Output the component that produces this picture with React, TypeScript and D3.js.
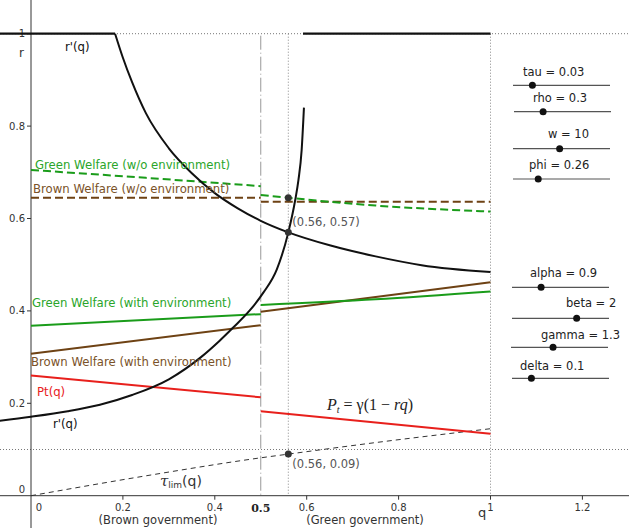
import React from "react";
import * as d3 from "d3";

// axis ticks
const qTicks = [0.2, 0.4, 0.6, 0.8, 1, 1.2];
const rTicks = [0.2, 0.4, 0.6, 0.8, 1];

// r'(q), falling branch (after the cap at r = 1)
const rPrimeFallQ = [0.183, 0.2, 0.22, 0.25, 0.3, 0.35, 0.4, 0.45, 0.5, 0.56, 0.65, 0.75, 0.85, 1];
const rPrimeFallR = [1, 0.948, 0.895, 0.828, 0.752, 0.698, 0.655, 0.622, 0.595, 0.57, 0.542, 0.518, 0.499, 0.484];

// r'(q), rising branch
const rPrimeRiseQ = [-0.07, 0, 0.08, 0.15, 0.22, 0.3, 0.37, 0.41, 0.44, 0.477, 0.506, 0.535, 0.56, 0.575, 0.582, 0.589, 0.594];
const rPrimeRiseR = [0.162, 0.171, 0.183, 0.197, 0.218, 0.252, 0.3, 0.335, 0.364, 0.402, 0.44, 0.49, 0.57, 0.64, 0.683, 0.748, 0.84];

// capped parts of r'(q)
const capLeftQ = [-0.07, 0.183];
const capRightQ = [0.592, 1];

// welfare and price, brown government (q < 0.5) and green government (q > 0.5)
const greenNoEnvLeftQ = [0, 0.25, 0.5];
const greenNoEnvLeftR = [0.705, 0.688, 0.67];
const greenNoEnvRightQ = [0.5, 0.75, 1];
const greenNoEnvRightR = [0.651, 0.628, 0.615];

const brownNoEnvLeftQ = [0, 0.5];
const brownNoEnvLeftR = [0.645, 0.645];
const brownNoEnvRightQ = [0.5, 1];
const brownNoEnvRightR = [0.636, 0.636];

const greenEnvLeftQ = [0, 0.5];
const greenEnvLeftR = [0.368, 0.393];
const greenEnvRightQ = [0.5, 0.75, 1];
const greenEnvRightR = [0.413, 0.425, 0.442];

const brownEnvLeftQ = [0, 0.5];
const brownEnvLeftR = [0.307, 0.369];
const brownEnvRightQ = [0.5, 1];
const brownEnvRightR = [0.398, 0.462];

const priceLeftQ = [0, 0.5];
const priceLeftR = [0.26, 0.213];
const priceRightQ = [0.5, 1];
const priceRightR = [0.183, 0.134];

// tau_lim(q)
const tauLimQ = [0, 0.25, 0.5, 0.56, 0.75, 1];
const tauLimR = [0, 0.043, 0.082, 0.09, 0.115, 0.145];

// marked points
const pointsQ = [0.56, 0.56, 0.56];
const pointsR = [0.57, 0.645, 0.09];

// sliders
const sliderNames = ["tau", "rho", "w", "phi", "alpha", "beta", "gamma", "delta"];
const sliderValues = [0.03, 0.3, 10, 0.26, 0.9, 2, 1.3, 0.1];
const sliderMin = [0, 0, 0, 0, 0, 0, 0, 0];
const sliderMax = [0.15, 1, 20.8, 1, 3, 3, 3, 0.5];

const GREEN = "#1a9c1a";
const GREEN_TXT = "#2aa52a";
const BROWN = "#6e4214";
const BROWN_TXT = "#7a5228";
const RED = "#e8201c";
const FONT = "'DejaVu Sans', sans-serif";

const W = 629;
const H = 528;

const x = d3.scaleLinear().domain([0, 1]).range([31, 490.5]);
const y = d3.scaleLinear().domain([0, 1]).range([495.7, 33.7]);

const zip = (qs: number[], rs: number[]) => qs.map((q, i) => [q, rs[i]] as [number, number]);

const straight = d3.line<[number, number]>().x((d) => x(d[0])).y((d) => y(d[1]));
const smooth = d3
  .line<[number, number]>()
  .x((d) => x(d[0]))
  .y((d) => y(d[1]))
  .curve(d3.curveMonotoneX);

// slider track layout: [track y, track left, label x, label baseline]
const sliderLayout = [
  [85.3, 513, 523, 76],
  [111.7, 514, 533, 101.5],
  [148.7, 513, 548, 138],
  [179, 513, 529, 169],
  [287.3, 512, 530, 277],
  [318.3, 512, 566, 307],
  [347.3, 511, 541, 339],
  [378.3, 512, 520, 370],
];
const TRACK_LEN = 97;

export default function App() {
  const line = (
    qs: number[],
    rs: number[],
    color: string,
    opts: { dash?: string; width?: number; curve?: boolean } = {}
  ) => (
    <path
      d={(opts.curve ? smooth : straight)(zip(qs, rs)) || ""}
      fill="none"
      stroke={color}
      strokeWidth={opts.width ?? 2}
      strokeDasharray={opts.dash}
    />
  );

  return (
    <svg
      width={W}
      height={H}
      style={{ position: "absolute", left: 0, top: 0, background: "#fff" }}
      fontFamily={FONT}
    >
      <rect width={W} height={H} fill="#fff" />

      {/* guide lines */}
      <line x1={0} x2={W} y1={y(1)} y2={y(1)} stroke="#777" strokeDasharray="1,2" />
      <line x1={0} x2={W} y1={y(0.1)} y2={y(0.1)} stroke="#777" strokeDasharray="1,2" />
      <line x1={x(0.56)} x2={x(0.56)} y1={y(1)} y2={y(0)} stroke="#888" strokeDasharray="1,2" />
      <line x1={x(1)} x2={x(1)} y1={y(1)} y2={y(0)} stroke="#888" strokeDasharray="1,2" />
      <line x1={x(0.5)} x2={x(0.5)} y1={y(1) + 2} y2={y(0)} stroke="#999" strokeDasharray="14,3,1,3" />

      {/* axes */}
      <line x1={0} x2={W} y1={y(0)} y2={y(0)} stroke="#333" />
      <line x1={x(0)} x2={x(0)} y1={0} y2={H} stroke="#333" />
      {qTicks.map((t) => (
        <g key={"q" + t}>
          <line x1={x(t)} x2={x(t)} y1={y(0)} y2={y(0) + 4} stroke="#333" />
          <text x={x(t)} y={511} fontSize={10} fill="#333" textAnchor="middle">
            {t}
          </text>
        </g>
      ))}
      <text x={x(0) + 8} y={511} fontSize={10} fill="#333" textAnchor="middle">
        0
      </text>
      <text x={x(0.5)} y={512} fontSize={11} fill="#222" textAnchor="middle" fontFamily="'DejaVu Serif', serif" fontWeight="bold">
        0.5
      </text>
      {rTicks.map((t) => (
        <g key={"r" + t}>
          <line x1={x(0) - 4} x2={x(0)} y1={y(t)} y2={y(t)} stroke="#333" />
          <text x={25} y={y(t) + 3.5} fontSize={10} fill="#333" textAnchor="end">
            {t}
          </text>
        </g>
      ))}
      <text x={25} y={493} fontSize={10} fill="#333" textAnchor="end">
        0
      </text>
      <text x={19} y={57} fontSize={12} fill="#333">
        r
      </text>
      <text x={478} y={517} fontSize={13} fill="#333">
        q
      </text>
      <text x={158} y={524} fontSize={11.5} fill="#333" textAnchor="middle">
        (Brown government)
      </text>
      <text x={365} y={524} fontSize={11.5} fill="#333" textAnchor="middle">
        (Green government)
      </text>

      {/* tau_lim */}
      {line(tauLimQ, tauLimR, "#333", { dash: "5,4", width: 1, curve: true })}

      {/* price */}
      {line(priceLeftQ, priceLeftR, RED)}
      {line(priceRightQ, priceRightR, RED)}

      {/* welfare with environment */}
      {line(brownEnvLeftQ, brownEnvLeftR, BROWN)}
      {line(brownEnvRightQ, brownEnvRightR, BROWN)}
      {line(greenEnvLeftQ, greenEnvLeftR, GREEN)}
      {line(greenEnvRightQ, greenEnvRightR, GREEN, { curve: true })}

      {/* welfare without environment */}
      {line(brownNoEnvLeftQ, brownNoEnvLeftR, BROWN, { dash: "8,4" })}
      {line(brownNoEnvRightQ, brownNoEnvRightR, BROWN, { dash: "8,4" })}
      {line(greenNoEnvLeftQ, greenNoEnvLeftR, GREEN, { dash: "8,4", curve: true })}
      {line(greenNoEnvRightQ, greenNoEnvRightR, GREEN, { dash: "8,4", curve: true })}

      {/* r'(q) */}
      {line(capLeftQ, [1, 1], "#111", { width: 2.2 })}
      {line(capRightQ, [1, 1], "#111", { width: 2.2 })}
      {line(rPrimeFallQ, rPrimeFallR, "#111", { curve: true })}
      {line(rPrimeRiseQ, rPrimeRiseR, "#111", { curve: true })}

      {/* marked points */}
      {pointsQ.map((q, i) => (
        <circle key={"p" + i} cx={x(q)} cy={y(pointsR[i])} r={3.5} fill="#333" />
      ))}
      <text x={x(0.56) + 4} y={y(0.57) - 6} fontSize={11.5} fill="#555">
        ({pointsQ[0]}, {pointsR[0]})
      </text>
      <text x={x(0.56) + 4} y={y(0.09) + 14} fontSize={11.5} fill="#555">
        ({pointsQ[2]}, {pointsR[2].toFixed(2)})
      </text>

      {/* curve labels */}
      <text x={35} y={169} fontSize={11.7} fill={GREEN_TXT}>
        Green Welfare (w/o environment)
      </text>
      <text x={33} y={193} fontSize={11.7} fill={BROWN_TXT}>
        Brown Welfare (w/o environment)
      </text>
      <text x={32} y={307} fontSize={11.7} fill={GREEN_TXT}>
        Green Welfare (with environment)
      </text>
      <text x={31} y={366} fontSize={11.7} fill={BROWN_TXT}>
        Brown Welfare (with environment)
      </text>
      <text x={37} y={396} fontSize={11.7} fill={RED}>
        Pt(q)
      </text>
      <text x={53} y={428} fontSize={11.7} fill="#111">
        r'(q)
      </text>
      <text x={65} y={51} fontSize={11.7} fill="#111">
        r'(q)
      </text>
      <text x={160} y={486} fill="#333">
        <tspan fontFamily="'DejaVu Serif', serif" fontStyle="italic" fontSize={15}>
          τ
        </tspan>
        <tspan fontSize={9} dy={2}>
          lim
        </tspan>
        <tspan fontSize={14} dy={-2}>
          (q)
        </tspan>
      </text>
      <text x={327} y={410} fontFamily="'Liberation Serif', serif" fontSize={16} fill="#222">
        <tspan fontStyle="italic">P</tspan>
        <tspan fontStyle="italic" fontSize={10} dy={3}>
          t
        </tspan>
        <tspan dy={-3}> = γ(1 − </tspan>
        <tspan fontStyle="italic">rq</tspan>
        <tspan>)</tspan>
      </text>

      {/* sliders */}
      {sliderNames.map((name, i) => {
        const [ty, tx, lx, ly] = sliderLayout[i];
        const s = d3.scaleLinear().domain([sliderMin[i], sliderMax[i]]).range([tx, tx + TRACK_LEN]);
        return (
          <g key={name}>
            <text x={lx} y={ly} fontSize={11.5} fill="#222">
              {name} = {sliderValues[i]}
            </text>
            <line x1={tx} x2={tx + TRACK_LEN} y1={ty} y2={ty} stroke="#555" strokeWidth={1.2} />
            <circle cx={s(sliderValues[i])} cy={ty} r={3.5} fill="#111" />
          </g>
        );
      })}
    </svg>
  );
}
